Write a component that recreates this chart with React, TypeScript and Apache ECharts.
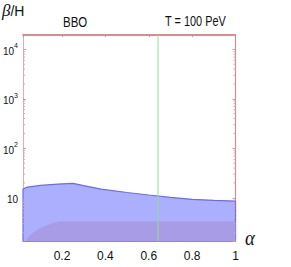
import React, { useEffect, useRef } from "react";
import * as echarts from "echarts";

// ---- data ----
const X_MIN = 0.02;
const X_MAX = 1;
const Y_MIN = 1.34;
const Y_MAX = 19500;

// upper (blue) region boundary: alpha vs beta/H
const upperAlpha = [0.02, 0.02, 0.04, 0.1, 0.18, 0.25, 0.3, 0.38, 0.5, 0.6, 0.7, 0.8, 0.9, 1.0, 1.0];
const upperBeta = [1.34, 15, 16.5, 17.8, 18.9, 19.6, 17.6, 15, 12.8, 11.4, 10.2, 9.3, 8.9, 8.6, 1.34];

// lower (purple) region boundary
const lowerAlpha = [0.035, 0.045, 0.058, 0.08, 0.1, 0.127, 0.16, 0.195, 1.0];
const lowerBeta = [1.34, 1.6, 1.8, 2.13, 2.42, 2.7, 3.05, 3.3, 3.3];

// vertical green line (alpha value)
const markAlpha = [0.643];

// minor tick values on the log axis
const minorTickValues = [
  2, 3, 4, 5, 6, 7, 8, 9,
  20, 30, 40, 50, 60, 70, 80, 90,
  200, 300, 400, 500, 600, 700, 800, 900,
  2000, 3000, 4000, 5000, 6000, 7000, 8000, 9000,
];

const titleLeft = "BBO";
const titleRight = "T = 100 PeV";

const SANS = "'Liberation Sans', Arial, Helvetica, sans-serif";

export default function App() {
  const ref = useRef<HTMLDivElement>(null);

  useEffect(() => {
    if (!ref.current) return;
    const chart = echarts.init(ref.current, null, { renderer: "svg" });

    const upper = upperAlpha.map((a, i) => [a, upperBeta[i]]);
    const lower = lowerAlpha.map((a, i) => [a, lowerBeta[i]]);

    const yLabelFormatter = (v: number) => {
      const e = Math.round(Math.log10(v));
      if (Math.abs(v - Math.pow(10, e)) > 1e-6 * v) return "";
      if (e === 1) return "{b|10}";
      if (e < 1) return "";
      return "{b|10}{s|" + e + "}";
    };

    const option: any = {
      animation: false,
      grid: { left: 23, right: 55.5, top: 35, bottom: 26, containLabel: false },
      xAxis: [
        {
          type: "value",
          min: X_MIN,
          max: X_MAX,
          splitNumber: 5,
          splitLine: { show: false },
          axisLine: { show: true, lineStyle: { color: "#9484d8", width: 1.2 } },
          axisTick: { show: true, inside: true, length: 2, lineStyle: { color: "#9a8ad0" } },
          axisLabel: {
            showMinLabel: false,
            fontFamily: SANS,
            fontSize: 12,
            color: "#111",
            margin: 9,
            formatter: (v: number) => (Math.abs(v * 5 - Math.round(v * 5)) < 1e-6 ? String(+v.toFixed(1)) : ""),
          },
        },
        {
          type: "value",
          position: "top",
          min: X_MIN,
          max: X_MAX,
          splitNumber: 5,
          splitLine: { show: false },
          axisLine: { show: true, onZero: false, lineStyle: { color: "#c86a6a", width: 1.5 } },
          axisTick: { show: true, inside: true, length: 2, lineStyle: { color: "#c89090" } },
          axisLabel: { show: false },
        },
      ],
      yAxis: [
        {
          type: "log",
          logBase: 10,
          min: Y_MIN,
          max: Y_MAX,
          splitLine: { show: false },
          axisLine: { show: true, lineStyle: { color: "#f0a8a8", width: 1 } },
          axisTick: { show: true, inside: true, length: 3, lineStyle: { color: "#d09a9a" } },
          axisLabel: {
            showMinLabel: false,
            showMaxLabel: false,
            margin: 5,
            formatter: yLabelFormatter,
            rich: {
              b: { fontFamily: SANS, fontSize: 10, color: "#111", lineHeight: 14, verticalAlign: "bottom" },
              s: { fontFamily: SANS, fontSize: 7, color: "#111", lineHeight: 14, verticalAlign: "top", padding: [0, 0, 4, 0] },
            },
          },
        },
        {
          type: "log",
          logBase: 10,
          position: "right",
          min: Y_MIN,
          max: Y_MAX,
          splitLine: { show: false },
          axisLine: { show: true, onZero: false, lineStyle: { color: "#d48e8e", width: 1.2 } },
          axisTick: { show: true, inside: true, length: 3, lineStyle: { color: "#d09a9a" } },
          axisLabel: { show: false },
        },
      ],
      series: [
        {
          type: "line",
          data: upper,
          xAxisIndex: 0,
          yAxisIndex: 0,
          symbol: "none",
          lineStyle: { color: "#6b6bef", width: 1.2 },
          areaStyle: { color: "#abaffd", opacity: 1, origin: "start" },
          z: 2,
        },
        {
          type: "line",
          data: lower,
          xAxisIndex: 0,
          yAxisIndex: 0,
          symbol: "none",
          smooth: 0.3,
          lineStyle: { color: "#a99ce6", width: 0.5 },
          areaStyle: { color: "#a99ce6", opacity: 1, origin: "start" },
          z: 3,
          markLine: {
            silent: true,
            symbol: "none",
            label: { show: false },
            lineStyle: { color: "#8ee08e", width: 1.5, type: "solid", opacity: 0.65 },
            data: markAlpha.map((a) => ({ xAxis: a })),
            z: 5,
          },
        },
        {
          type: "custom",
          xAxisIndex: 0,
          yAxisIndex: 0,
          silent: true,
          z: 6,
          data: minorTickValues.filter((v) => v > Y_MIN && v < Y_MAX).map((v) => [X_MIN, v]),
          renderItem: (_params: any, api: any) => {
            const v = api.value(1);
            const pL = api.coord([X_MIN, v]);
            const pR = api.coord([X_MAX, v]);
            const st = { stroke: "#d8a4a4", lineWidth: 1 };
            return {
              type: "group",
              children: [
                { type: "line", shape: { x1: pL[0], y1: pL[1], x2: pL[0] + 2, y2: pL[1] }, style: st },
                { type: "line", shape: { x1: pR[0] - 2, y1: pR[1], x2: pR[0], y2: pR[1] }, style: st },
              ],
            };
          },
        },
      ],
      graphic: [
        {
          type: "text",
          x: 2,
          y: 2,
          style: {
            text: "{i|β}{n|/H}",
            rich: {
              i: { fontFamily: "'Liberation Serif', serif", fontStyle: "italic", fontSize: 17, fill: "#111" },
              n: { fontFamily: SANS, fontSize: 14, fill: "#111" },
            },
          },
        },
        {
          type: "text",
          x: 63,
          y: 15,
          scaleX: 0.82,
          style: { text: titleLeft, fontFamily: SANS, fontSize: 14, fill: "#111" },
        },
        {
          type: "text",
          x: 165,
          y: 15,
          scaleX: 0.78,
          style: { text: titleRight, fontFamily: SANS, fontSize: 14, fill: "#111" },
        },
        {
          type: "text",
          x: 245,
          y: 226,
          scaleX: 0.85,
          style: {
            text: "α",
            fontFamily: "'Liberation Serif', 'DejaVu Serif', serif",
            fontStyle: "italic",
            fontSize: 22,
            fill: "#111",
          },
        },
      ],
    };

    chart.setOption(option);
    return () => chart.dispose();
  }, []);

  return (
    <div
      ref={ref}
      style={{ position: "fixed", left: 0, top: 0, width: 291, height: 267, background: "#fff" }}
    />
  );
}
